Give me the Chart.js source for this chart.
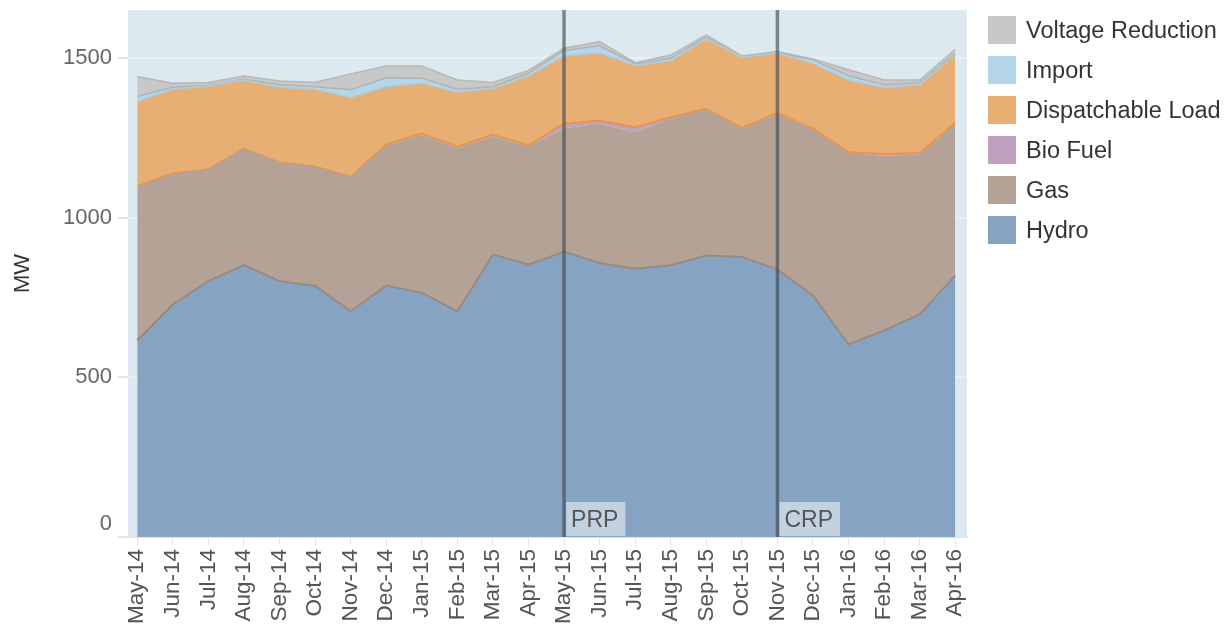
<!DOCTYPE html>
<html>
<head>
<meta charset="utf-8">
<script src="https://cdn.jsdelivr.net/npm/chart.js@4.4.1/dist/chart.umd.min.js"></script>
<style>
  html, body { margin: 0; padding: 0; background: #ffffff; }
  body { font-family: 'Liberation Sans', Arial, sans-serif; }
  #wrap { position: relative; width: 1225px; height: 629px; overflow: hidden; }
  #c { position: absolute; left: 0; top: 0; }
  #legend { position: absolute; left: 988px; top: 16px; }
  .item { position: relative; height: 40px; }
  .sw { position: absolute; left: 0; top: 0; width: 28px; height: 28px; }
  .lt { position: absolute; left: 38px; top: 0; height: 28px; line-height: 28px; font-size: 23.5px; color: #333; white-space: nowrap; }
</style>
</head>
<body>
<div id="wrap">
  <canvas id="c" width="1225" height="629"></canvas>
  <div id="legend"></div>
</div>
<script>
// ---- data (MW) ----
const months = ['May-14','Jun-14','Jul-14','Aug-14','Sep-14','Oct-14','Nov-14','Dec-14',
  'Jan-15','Feb-15','Mar-15','Apr-15','May-15','Jun-15','Jul-15','Aug-15','Sep-15','Oct-15',
  'Nov-15','Dec-15','Jan-16','Feb-16','Mar-16','Apr-16'];
const hydro = [615,728,801,851,801,787,707,787,765,706,884,853,893,858,840,851,881,877,837,756,603,647,697,819];
const gas = [483,410,351,365,372,373,420,439,494,512,370,370,387,436,427,460,457,401,488,519,599,547,500,475];
const bioFuel = [0,0,0,0,0,0,0,3,4,4,5,3,14,10,16,3,3,3,3,3,3,5,5,3];
const dispatchableLoad = [266,264,260,215,235,242,249,181,158,171,146,218,212,211,193,177,219,221,187,205,226,208,214,212];
const importMW = [15,6,2,2,8,8,24,28,15,9,5,8,17,23,5,8,5,1,1,11,13,9,6,5];
const voltageReduction = [63,13,9,10,12,14,50,37,39,29,13,9,7,13,4,10,7,3,4,3,19,15,9,13];
const yTicks = [0, 500, 1000, 1500];
const refLines = [{ month: 'May-15', label: 'PRP' }, { month: 'Nov-15', label: 'CRP' }];

const FONT = "'Liberation Sans', Arial, sans-serif";

const series = [
  { label: 'Hydro', data: hydro, fill: '#86a4c2', line: '#9a8a80', w: 2 },
  { label: 'Gas', data: gas, fill: '#b4a296', line: '#b4a296', w: 0 },
  { label: 'Bio Fuel', data: bioFuel, fill: '#c0a2c0', line: '#e8954a', w: 2 },
  { label: 'Dispatchable Load', data: dispatchableLoad, fill: '#e8af74', line: '#a9cce2', w: 1.5 },
  { label: 'Import', data: importMW, fill: '#b5d5e9', line: '#b3b3b3', w: 1.5 },
  { label: 'Voltage Reduction', data: voltageReduction, fill: '#c8c8c8', line: '#b8b8b8', w: 1.5 }
];

const datasets = series.map((s, k) => ({
  label: s.label,
  data: s.data.map((v, i) => ({ x: i, y: v })),
  backgroundColor: s.fill,
  borderColor: s.line,
  borderWidth: s.w,
  fill: k === 0 ? 'origin' : '-1',
  pointRadius: 0,
  pointHoverRadius: 0,
  tension: 0
}));

// legend (HTML, top = last series)
const legend = document.getElementById('legend');
series.slice().reverse().forEach(s => {
  const it = document.createElement('div');
  it.className = 'item';
  it.innerHTML = '<div class="sw" style="background:' + s.fill + '"></div><div class="lt">' + s.label + '</div>';
  legend.appendChild(it);
});

const bgPlugin = {
  id: 'bg',
  beforeDraw(chart) {
    const { ctx, chartArea: a } = chart;
    ctx.save();
    ctx.fillStyle = '#dde9f0';
    ctx.fillRect(a.left, a.top, a.right - a.left, a.bottom - a.top);
    ctx.restore();
  }
};

const refPlugin = {
  id: 'refs',
  afterDatasetsDraw(chart) {
    const { ctx, chartArea: a, scales } = chart;
    ctx.save();
    refLines.forEach(r => {
      const px = scales.x.getPixelForValue(months.indexOf(r.month));
      ctx.strokeStyle = 'rgba(60,70,80,0.62)';
      ctx.lineWidth = 3.5;
      ctx.beginPath();
      ctx.moveTo(px, a.top);
      ctx.lineTo(px, a.bottom);
      ctx.stroke();
      ctx.font = '23px ' + FONT;
      const tw = ctx.measureText(r.label).width;
      ctx.fillStyle = 'rgba(255,255,255,0.5)';
      ctx.fillRect(px + 2, a.bottom - 35, tw + 12, 34);
      ctx.fillStyle = '#555';
      ctx.textBaseline = 'alphabetic';
      ctx.fillText(r.label, px + 7, a.bottom - 10);
    });
    ctx.restore();
  }
};

new Chart(document.getElementById('c'), {
  type: 'line',
  data: { datasets },
  plugins: [bgPlugin, refPlugin],
  options: {
    responsive: false,
    animation: false,
    events: [],
    layout: { padding: { top: 10, right: 258, left: 0, bottom: 0 } },
    plugins: { legend: { display: false }, tooltip: { enabled: false } },
    scales: {
      x: {
        type: 'linear',
        min: -0.26,
        max: 23.33,
        afterBuildTicks(scale) { scale.ticks = months.map((m, i) => ({ value: i })); },
        afterFit(scale) { scale.height = 92; scale.paddingLeft = 0; scale.paddingRight = 0; },
        ticks: {
          autoSkip: false,
          maxRotation: 90,
          minRotation: 90,
          padding: 4,
          color: '#555',
          font: { family: FONT, size: 22.5 },
          callback: (v) => months[v]
        },
        grid: { drawOnChartArea: false, drawTicks: true, tickLength: 8, color: '#e4e4e4' },
        border: { display: true, color: '#e4e4e4', width: 2 }
      },
      y: {
        stacked: true,
        min: 0,
        max: 1650,
        z: 1,
        afterBuildTicks(scale) { scale.ticks = yTicks.map(v => ({ value: v })); },
        afterFit(scale) { scale.width = 128; scale.paddingTop = 0; scale.paddingBottom = 0; },
        ticks: {
          padding: 6,
          color: '#666',
          font: { family: FONT, size: 22 },
          callback: (v) => (v === 0 ? ['0', ''] : String(v))
        },
        grid: { color: 'rgba(255,255,255,0.35)', lineWidth: 2, tickLength: 10, tickColor: '#e4e4e4' },
        border: { display: false },
        title: { display: true, text: 'MW', color: '#333', font: { family: FONT, size: 22 }, padding: { top: 10, bottom: 4 } }
      }
    }
  }
});
</script>
</body>
</html>
